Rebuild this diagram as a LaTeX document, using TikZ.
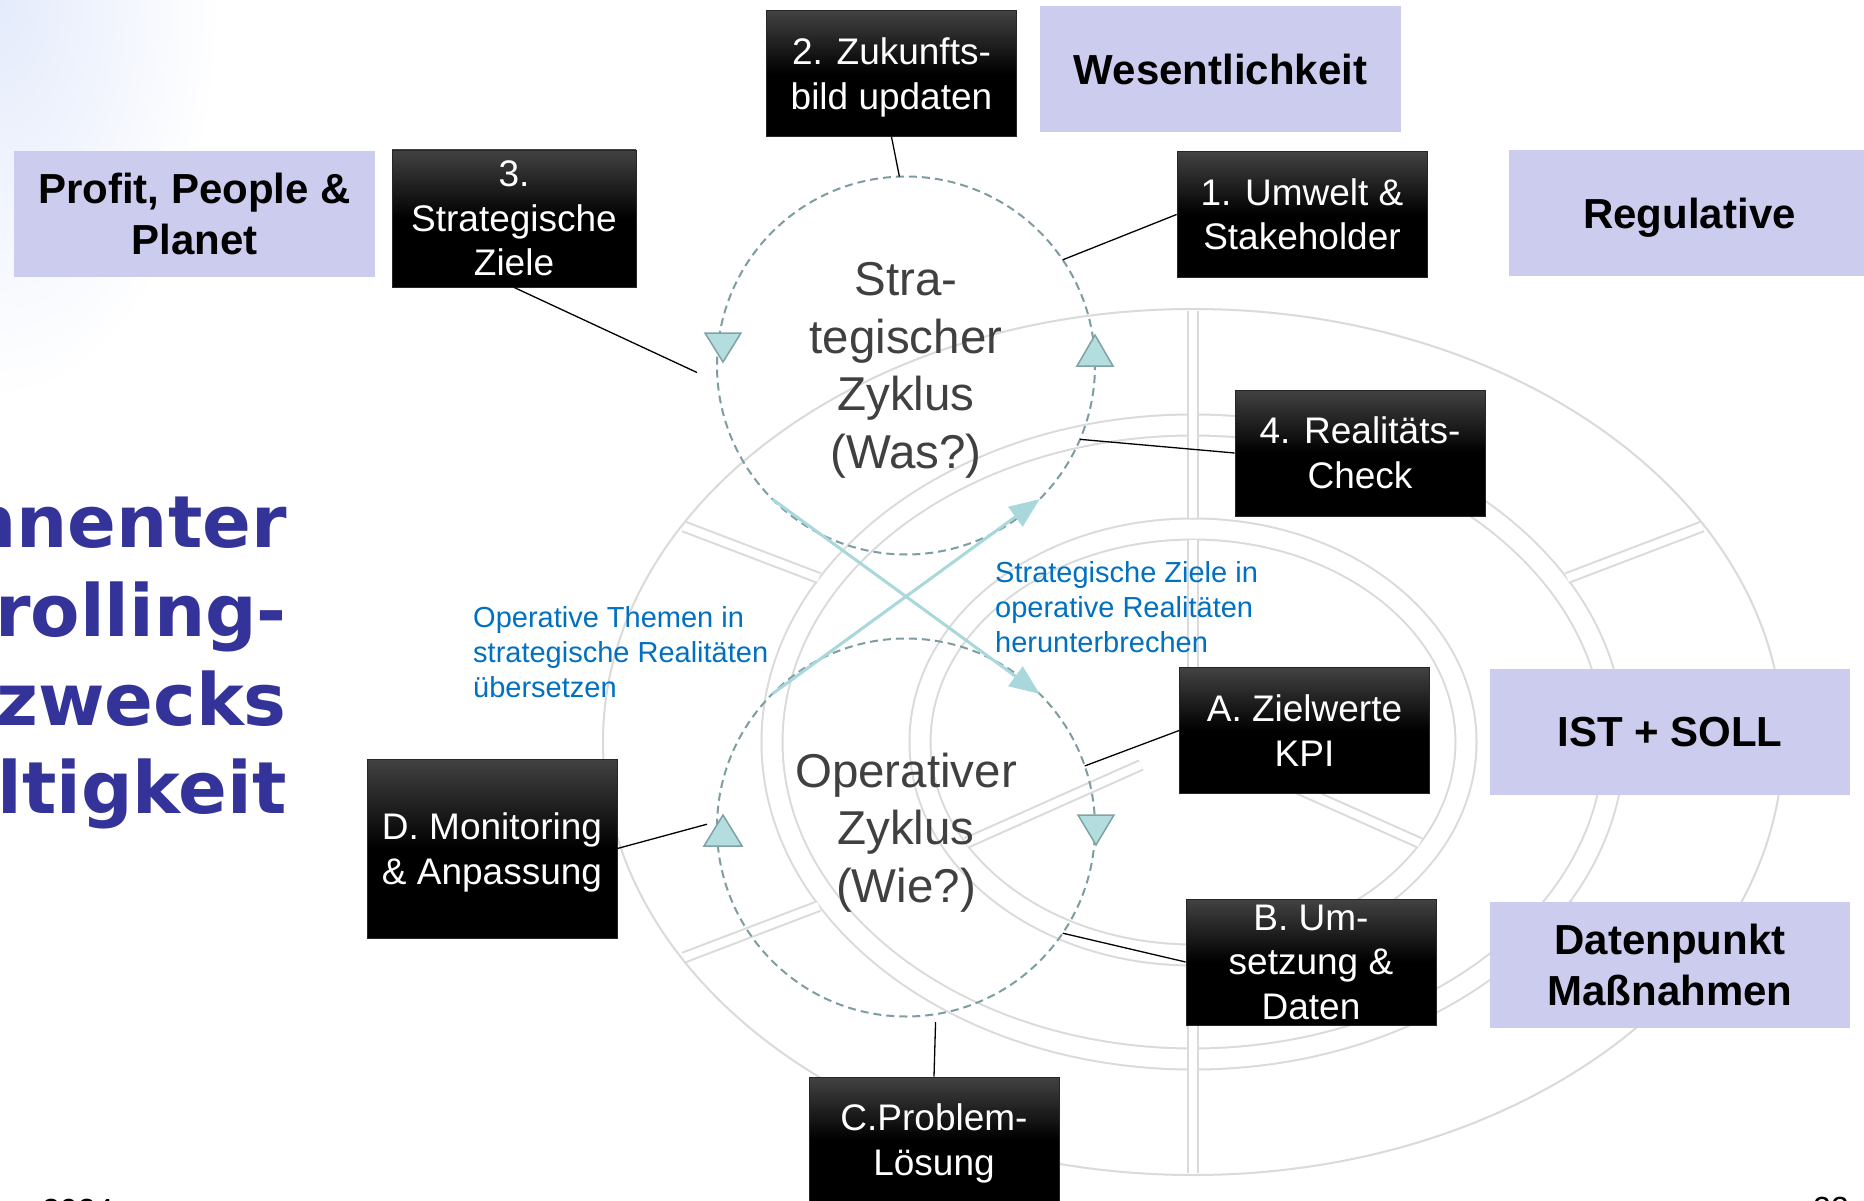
\documentclass[tikz,border=0pt]{standalone}
\usepackage{fontspec}
\setmainfont{Liberation Sans}
\newfontfamily\headfont{DejaVu Sans}
\usetikzlibrary{arrows.meta,calc,shapes.geometric}
\definecolor{lav}{RGB}{204,205,238}
\definecolor{headblue}{RGB}{51,51,153}
\definecolor{txtblue}{RGB}{0,112,192}
\definecolor{cyclegray}{RGB}{125,158,160}
\definecolor{trifill}{RGB}{180,221,224}
\definecolor{triedge}{RGB}{128,162,163}
\definecolor{crossteal}{RGB}{168,216,220}
\definecolor{ringgray}{RGB}{218,218,218}
\definecolor{circtext}{RGB}{64,64,64}
\definecolor{tint}{RGB}{228,235,251}
\begin{document}
\begin{tikzpicture}[x=1pt,y=1pt,
  blackbox/.style={rectangle, draw=black!85, line width=0.8pt, top color=black!74, bottom color=black, middle color=black, text=white, align=center, inner sep=0pt, minimum width=250pt, minimum height=126pt, font=\fontsize{37}{44.5}\selectfont},
  lavbox/.style={rectangle, fill=lav, align=center, inner sep=0pt, minimum width=361pt, minimum height=126pt, font=\fontsize{42}{51}\selectfont\bfseries},
  cyc/.style={circle, draw=cyclegray, line width=2pt, dash pattern=on 8pt off 5pt, minimum size=378pt, inner sep=0pt, outer sep=0pt, text=circtext, align=center, font=\fontsize{47.5}{57.5}\selectfont},
  tri/.style={fill=trifill, draw=triedge, line width=1.5pt, line join=miter},
  cross/.style={draw=crossteal, line width=3pt, -{Triangle[length=30pt,width=24pt]}},
  conn/.style={draw=black, line width=1.3pt},
  note/.style={text=txtblue, align=left, anchor=west, inner sep=0pt, font=\fontsize{29}{35}\selectfont},
  head/.style={text=headblue, anchor=base east, inner sep=0pt, font=\fontsize{72}{88}\selectfont\headfont\bfseries},
  foot/.style={text=black, inner sep=0pt, font=\fontsize{32}{38}\selectfont},
  ring/.style={draw=ringgray, line width=2pt},
  spoke/.style={double=white, double distance=8pt},
]
\useasboundingbox (0,0) rectangle (1864,-1201);
\fill[white] (0,0) rectangle (1864,-1201);
\shade[inner color=tint, outer color=white] (0,0) ellipse [x radius=220, y radius=400];

% faint background wheel
\coordinate (wc) at (1193,-742);
\begin{scope}[ring]
\draw (wc) ellipse [x radius=590, y radius=433];
\draw[double=white, double distance=19pt] (wc) ellipse [x radius=421, y radius=317];
\draw[double=white, double distance=19pt] (wc) ellipse [x radius=273, y radius=213];
\foreach \a in {30,150,210,330}
  \draw[spoke] ($(wc)+({432*cos(\a)},{328*sin(\a)})$) -- ($(wc)+({588*cos(\a)},{431*sin(\a)})$);
\foreach \a in {90,270}
  \draw[spoke] ($(wc)+({284*cos(\a)},{224*sin(\a)})$) -- ($(wc)+({588*cos(\a)},{431*sin(\a)})$);
\foreach \a in {90,210,330}
  \draw[spoke] ($(wc)+({60*cos(\a)},{46*sin(\a)})$) -- ($(wc)+({262*cos(\a)},{202*sin(\a)})$);
\end{scope}

% headline (cut by the page edge, as in the reference)
\node[head] (h1) at (287,-547) {nnenter};
\node[head] (h2) at (287,-636) {rolling-};
\node[head] (h3) at (287,-725) {zwecks};
\node[head] (h4) at (287,-813) {ltigkeit};

% footer (cut by page bottom)
\node[foot, anchor=base west] (f1) at (42,-1221) {2024};
\node[foot, anchor=base east] (f2) at (1849,-1219) {22};

% cycles
\node[cyc] (sc) at (906,-365.5) {Stra-\\tegischer\\Zyklus\\\smash{(Was?)}};
\node[cyc] (oc) at (906,-827.5) {Operativer\\Zyklus\\\smash{(Wie?)}};

% direction triangles on the cycles
\filldraw[tri] (705,-333) -- (741,-333) -- (723,-362) -- cycle;
\filldraw[tri] (1077,-366) -- (1113,-366) -- (1095,-335) -- cycle;
\filldraw[tri] (704,-846) -- (742,-846) -- (723,-815) -- cycle;
\filldraw[tri] (1078,-815) -- (1114,-815) -- (1096,-845) -- cycle;

% crossing arrows
\draw[cross] (sc.south west) -- (oc.north east);
\draw[cross] (oc.north west) -- (sc.south east);

% notes
\node[note] (n1) at (995,-607) {Strategische Ziele in\\operative Realitäten\\herunterbrechen};
\node[note] (n2) at (473,-652) {Operative Themen in\\strategische Realitäten\\übersetzen};

% black boxes
\node[blackbox] (b2) at (891.5,-73.5) {2. Zukunfts-\\\smash{bild updaten}};
\node[blackbox, minimum width=244pt, minimum height=137pt] (b3) at (514,-218.5) {3.\\Strategische\\Ziele};
\node[blackbox] (b1) at (1302,-214.5) {1. Umwelt \&\\Stakeholder};
\node[blackbox] (b4) at (1360,-453) {4. Realitäts-\\Check};
\node[blackbox] (bA) at (1304.5,-730.5) {A. Zielwerte\\KPI};
\node[blackbox] (bB) at (1311,-962) {B. Um-\\setzung \&\\Daten};
\node[blackbox, minimum height=125pt] (bC) at (934,-1139.5) {C.Problem-\\\smash{Lösung}};
\node[blackbox, minimum height=179pt] (bD) at (492,-848.5) {D. Monitoring\\\smash{\& Anpassung}};

% lavender boxes
\node[lavbox] (lP) at (194.5,-214) {Profit, People \&\\Planet};
\node[lavbox, text depth=0pt] (lW) at (1220.5,-69.5) {Wesentlichkeit};
\node[lavbox, text depth=0pt] (lR) at (1689.5,-213.5) {Regulative};
\node[lavbox, text depth=0pt, minimum width=360pt] (lI) at (1670,-732) {IST + SOLL};
\node[lavbox, minimum width=360pt] (lD) at (1670,-965) {Datenpunkt\\Maßnahmen};

% connectors
\draw[conn] (b2.south) -- (sc.92);
\draw[conn] (b1.west) -- (sc.34);
\draw[conn] (b3.south) -- ([shift={(-20pt,-7pt)}]sc.west);
\draw[conn] (b4.west) -- (sc.-23);
\draw[conn] (bA.west) -- (oc.19);
\draw[conn] (bB.west) -- (oc.-34);
\draw[conn] (bC.north) -- ([yshift=-8pt]oc.-81);
\draw[conn] (bD.east) -- ([xshift=-10pt]oc.179);
\end{tikzpicture}
\end{document}
